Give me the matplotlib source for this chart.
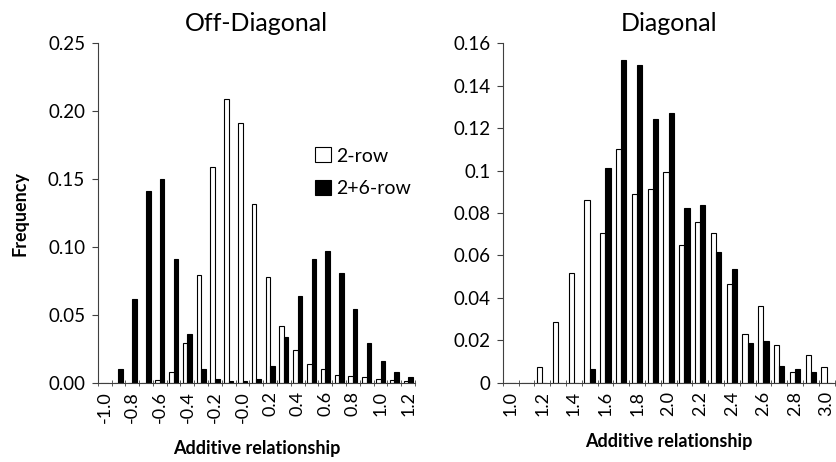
import matplotlib.pyplot as plt
import numpy as np

plt.rcParams['font.family'] = ['Lato', 'DejaVu Sans']

# Off-diagonal data (categories -1.0 .. 1.2 step 0.1)
off_cats = [f'{v:.1f}' for v in np.round(np.arange(-1.0, 1.21, 0.1), 1)]
off_two = [0, 0, 0, 0, 0.002, 0.008, 0.029, 0.079, 0.159, 0.209, 0.191, 0.132,
           0.078, 0.042, 0.024, 0.014, 0.010, 0.006, 0.005, 0.004, 0.003, 0.002, 0.0015]
off_both = [0, 0.010, 0.062, 0.141, 0.150, 0.091, 0.036, 0.010, 0.0025, 0.001, 0.001, 0.003,
            0.012, 0.034, 0.064, 0.091, 0.097, 0.081, 0.054, 0.029, 0.016, 0.008, 0.0045]

# Diagonal data (categories 1.0 .. 3.0 step 0.1)
dia_cats = [f'{v:.1f}' for v in np.round(np.arange(1.0, 3.01, 0.1), 1)]
dia_two = [0, 0, 0.0075, 0.0284, 0.0518, 0.0861, 0.0706, 0.110, 0.089, 0.0915, 0.0993,
           0.065, 0.076, 0.0706, 0.0467, 0.0232, 0.0364, 0.018, 0.005, 0.0129, 0.0075]
dia_both = [0, 0, 0, 0, 0, 0.0063, 0.101, 0.152, 0.150, 0.1245, 0.127,
            0.0825, 0.084, 0.0617, 0.0535, 0.0185, 0.0196, 0.0078, 0.0063, 0.0052, 0]

fig = plt.figure(figsize=(8.36, 4.62), dpi=100)
ax1 = fig.add_axes([0.1169, 0.1716, 0.3795, 0.7346])
ax2 = fig.add_axes([0.6014, 0.1716, 0.3969, 0.7346])

width = 0.33


def draw(ax, cats, two, both, title, ymax, ystep, yfmt):
    x = np.arange(len(cats))
    ax.bar(x - width / 2, two, width, color='white', edgecolor='black', linewidth=0.8, label='2-row')
    ax.bar(x + width / 2, both, width, color='black', edgecolor='black', linewidth=0.8, label='2+6-row')
    ax.set_xlim(-0.5, len(cats) - 0.5)
    ax.set_ylim(0, ymax)
    yt = np.arange(0, ymax + ystep / 2, ystep)
    ax.set_yticks(yt)
    ax.set_yticklabels([yfmt(v) for v in yt], fontsize=13.5)
    ax.set_xticks(x[::2])
    ax.set_xticklabels(cats[::2], rotation=90, fontsize=13)
    ax.set_xticks(np.arange(-0.5, len(cats), 1), minor=True)
    ax.tick_params(axis='x', which='major', length=0, pad=6)
    ax.tick_params(axis='x', which='minor', length=4, direction='inout', color='#404040')
    ax.tick_params(axis='y', length=4, color='#404040', pad=5)
    for s in ['top', 'right']:
        ax.spines[s].set_visible(False)
    for s in ['left', 'bottom']:
        ax.spines[s].set_color('#404040')
    ax.set_title(title, fontsize=18, pad=9)
    ax.set_xlabel('Additive relationship', fontsize=13, fontweight='bold', labelpad=12)


draw(ax1, off_cats, off_two, off_both, 'Off-Diagonal', 0.25, 0.05, lambda v: f'{v:.2f}')
draw(ax2, dia_cats, dia_two, dia_both, 'Diagonal', 0.16, 0.02,
     lambda v: f'{v:.2f}'.rstrip('0').rstrip('.') if v > 0 else '0')
ax1.set_ylabel('Frequency', fontsize=13, fontweight='bold', labelpad=14)
ax1.legend(loc='upper left', bbox_to_anchor=(0.63, 0.745), frameon=False, fontsize=14,
           handlelength=0.8, handleheight=0.8, handletextpad=0.3, labelspacing=0.8)

fig.savefig('out.png', dpi=100)
